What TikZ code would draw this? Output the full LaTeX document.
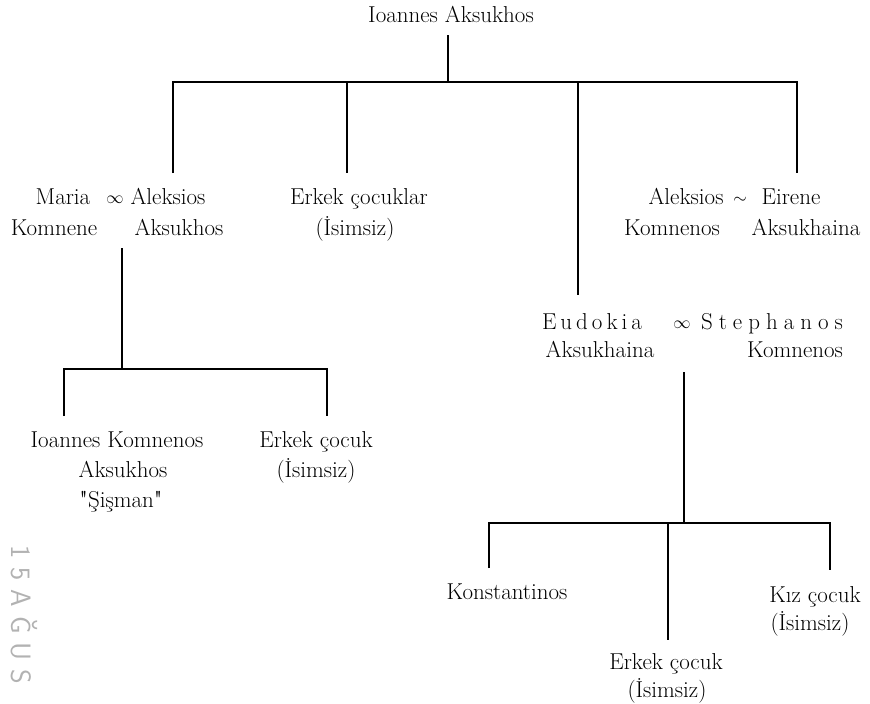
\documentclass[tikz,border=0pt]{standalone}
\usepackage{fontspec}
\newfontfamily\plainlm{lmroman10-regular.otf}
\newcommand\myls{\kern4pt}
\newcommand\mylsb{\kern6pt}
\newcommand\mystk{\kern9pt}
\begin{document}
\begin{tikzpicture}[x=1pt,y=-1pt,
  txt/.style={inner sep=0pt, anchor=base, font=\fontsize{23}{27}\selectfont},
  sym/.style={inner sep=0pt, anchor=base, font=\fontsize{17}{20}\selectfont},
  ln/.style={line width=2.6pt, line join=miter},
  stampstyle/.style={inner sep=0pt, rotate=-90, text=black!30,
    font=\fontsize{28}{28}\sffamily}]
\useasboundingbox (0,0) rectangle (870,704);

% texts
\node[txt] (root) at (451,22) {Ioannes Aksukhos};

\node[txt] (maria) at (63,204) {Maria};
\node[sym] (inf1) at (115,203) {$\infty$};
\node[txt] (aleks) at (168,204) {Aleksios};
\node[txt] (komnene) at (54,235) {Komnene};
\node[txt] (aksuk) at (179,235) {Aksukhos};

\node[txt] (erkler) at (359,204) {Erkek çocuklar};
\node[txt] (isim1) at (355,235) {(İsimsiz)};

\node[txt] (aleks2) at (686,204) {Aleksios};
\node[sym] (tilde) at (740,203) {$\sim$};
\node[txt] (eirene) at (791,204) {Eirene};
\node[txt] (komnenos1) at (672,235) {Komnenos};
\node[txt] (aksukh1) at (806,235) {Aksukhaina};

\node[txt] (eudokia) at (592,329) {E\myls u\myls d\myls o\myls k\myls i\myls a};
\node[sym] (inf2) at (682,328) {$\infty$};
\node[txt] (stephanos) at (772,329) {S\mylsb t\mylsb e\mylsb p\mylsb h\mylsb a\mylsb n\mylsb o\mylsb s};
\node[txt] (aksukh2) at (600,357) {Aksukhaina};
\node[txt] (komnenos2) at (795,357) {Komnenos};

\node[txt] (ioanneskom) at (117,447) {Ioannes Komnenos};
\node[txt] (aksuk2) at (123,477) {Aksukhos};
\node[txt] (sisman) at (121,507) {{\plainlm "}Şişman{\plainlm "}};

\node[txt] (erk1) at (316,447) {Erkek çocuk};
\node[txt] (isim2) at (316,477) {(İsimsiz)};

\node[txt] (konst) at (507,599) {Konstantinos};
\node[txt] (kiz) at (815,602) {Kız çocuk};
\node[txt] (isim3) at (810,630) {(İsimsiz)};
\node[txt] (erk2) at (666,669) {Erkek çocuk};
\node[txt] (isim4) at (667,697) {(İsimsiz)};

\node[stampstyle] (stamp) at (24,615) {1\mystk 5\mystk A\mystk Ğ\mystk U\mystk S};

% junction points
\coordinate (t0) at (448,35);
\coordinate (j0) at (448,82);
\coordinate (bl) at (173,82);
\coordinate (br) at (797,82);
\coordinate (b2) at (347,82);
\coordinate (b3) at (578,82);
\coordinate (d1) at (173,173);
\coordinate (d2) at (347,173);
\coordinate (d3) at (578,295);
\coordinate (d4) at (797,173);

\coordinate (m0) at (122,248);
\coordinate (m1) at (122,369);
\coordinate (ml) at (64,369);
\coordinate (mr) at (327,369);
\coordinate (ml2) at (64,416);
\coordinate (mr2) at (327,416);

\coordinate (s0) at (684,372);
\coordinate (s1) at (684,523);
\coordinate (sl) at (489,523);
\coordinate (sr) at (830,523);
\coordinate (sm) at (668,523);
\coordinate (sl2) at (489,568);
\coordinate (sr2) at (830,570);
\coordinate (sm2) at (668,640);

% connectors
\draw[ln] (t0) -- (j0);
\draw[ln] (d1) -- (bl) -- (br) -- (d4);
\draw[ln] (b2) -- (d2);
\draw[ln] (b3) -- (d3);

\draw[ln] (m0) -- (m1);
\draw[ln] (ml2) -- (ml) -- (mr) -- (mr2);

\draw[ln] (s0) -- (s1);
\draw[ln] (sl2) -- (sl) -- (sr) -- (sr2);
\draw[ln] (sm) -- (sm2);
\end{tikzpicture}
\end{document}
